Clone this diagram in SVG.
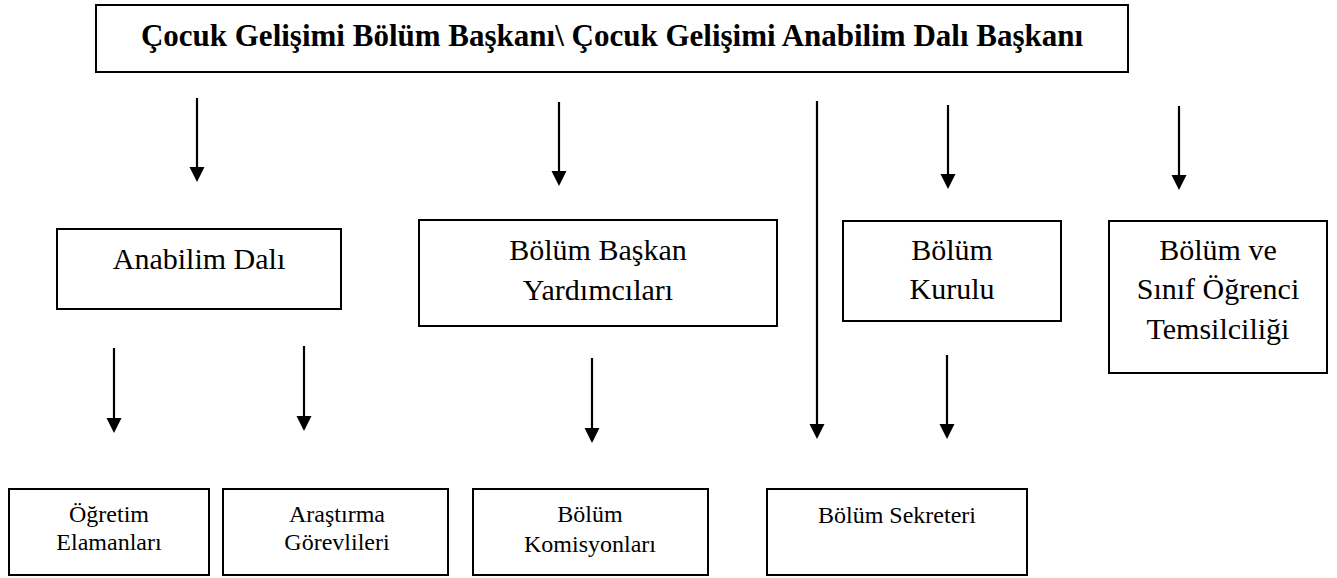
<svg xmlns="http://www.w3.org/2000/svg" width="1337" height="578" viewBox="0 0 1337 578">
<defs>
<style>
.box{fill:#fff;stroke:#000;stroke-width:2}
.t{fill:#000;text-anchor:middle}
.title{font-size:31px;font-weight:bold}
.l2{font-size:30px}
.l3{font-size:24px}
.c{stroke:#000;stroke-width:2.2;fill:none;marker-end:url(#ah)}
</style>
<marker id="ah" markerUnits="userSpaceOnUse" markerWidth="16" markerHeight="16" refX="1" refY="7.5" orient="auto">
<path d="M0,0 L15,7.5 L0,15 z" fill="#000"/>
</marker>
</defs>
<rect width="1337" height="578" fill="#fff"/>
<g id="connectors">
<line class="c" x1="197" y1="98" x2="197" y2="168"/>
<line class="c" x1="559" y1="102" x2="559" y2="172"/>
<line class="c" x1="817" y1="101" x2="817" y2="425"/>
<line class="c" x1="948" y1="105" x2="948" y2="175"/>
<line class="c" x1="1179" y1="106" x2="1179" y2="176"/>
<line class="c" x1="114" y1="348" x2="114" y2="419"/>
<line class="c" x1="304" y1="346" x2="304" y2="417"/>
<line class="c" x1="592" y1="358" x2="592" y2="429"/>
<line class="c" x1="947" y1="355" x2="947" y2="425"/>
</g>
<g font-family="Liberation Serif, Times New Roman, DejaVu Serif, serif">
<g id="n-head">
<rect class="box" x="96" y="5" width="1032" height="67"/>
<text class="t title" x="612" y="46">Çocuk Gelişimi Bölüm Başkanı\ Çocuk Gelişimi Anabilim Dalı Başkanı</text>
</g>
<g id="n-anabilim">
<rect class="box" x="57" y="229" width="284" height="80"/>
<text class="t l2" x="199" y="269">Anabilim Dalı</text>
</g>
<g id="n-yardimci">
<rect class="box" x="419" y="220" width="358" height="106"/>
<text class="t l2" x="598" y="260">Bölüm Başkan</text>
<text class="t l2" x="598" y="300">Yardımcıları</text>
</g>
<g id="n-kurul">
<rect class="box" x="843" y="221" width="218" height="100"/>
<text class="t l2" x="952" y="260">Bölüm</text>
<text class="t l2" x="952" y="299">Kurulu</text>
</g>
<g id="n-temsil">
<rect class="box" x="1109" y="221" width="218" height="152"/>
<text class="t l2" x="1218" y="260">Bölüm ve</text>
<text class="t l2" x="1218" y="299">Sınıf Öğrenci</text>
<text class="t l2" x="1218" y="339">Temsilciliği</text>
</g>
<g id="n-ogretim">
<rect class="box" x="9" y="489" width="200" height="86"/>
<text class="t l3" x="109" y="522">Öğretim</text>
<text class="t l3" x="109" y="550">Elamanları</text>
</g>
<g id="n-arastirma">
<rect class="box" x="223" y="489" width="225" height="86"/>
<text class="t l3" x="337" y="522">Araştırma</text>
<text class="t l3" x="337" y="550">Görevlileri</text>
</g>
<g id="n-komisyon">
<rect class="box" x="473" y="489" width="235" height="86"/>
<text class="t l3" x="590" y="522">Bölüm</text>
<text class="t l3" x="590" y="552">Komisyonları</text>
</g>
<g id="n-sekreter">
<rect class="box" x="767" y="489" width="260" height="86"/>
<text class="t l3" x="897" y="523">Bölüm Sekreteri</text>
</g>
</g>
</svg>
